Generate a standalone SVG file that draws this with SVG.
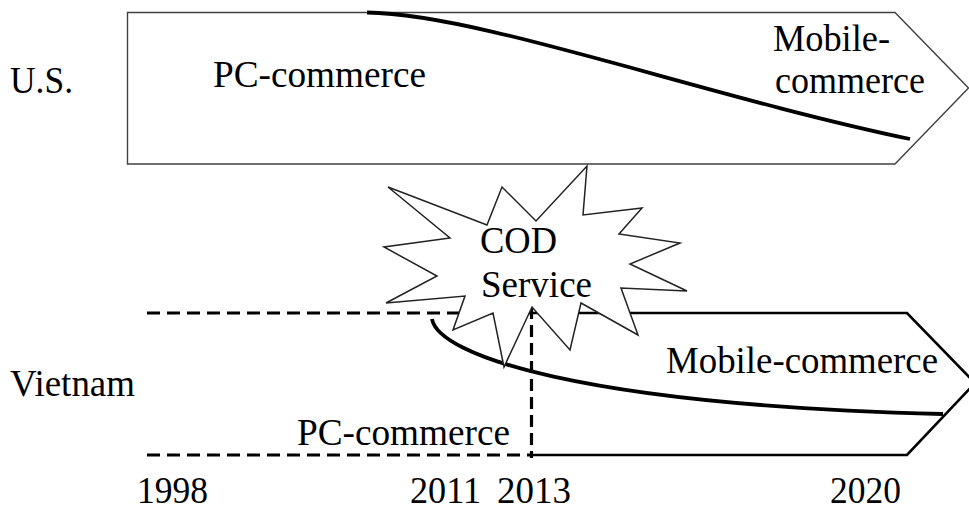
<svg xmlns="http://www.w3.org/2000/svg" width="969" height="512" viewBox="0 0 969 512">
<style>
text{font-family:"Liberation Serif","Times New Roman",serif;font-size:37px;fill:#000}
.box{fill:#fff;stroke:#404040;stroke-width:1.4}
.curve{fill:none;stroke:#000;stroke-width:3.8}
.dash{fill:none;stroke:#000;stroke-width:2.8;stroke-dasharray:13 7}
.solid{fill:none;stroke:#000;stroke-width:2.6}
.star{fill:#fff;stroke:#222;stroke-width:1.5;stroke-linejoin:miter}
</style>
<rect width="969" height="512" fill="#fff"/>
<g id="us">
<polygon class="box" points="127.5,12.5 895,12.5 968.5,88 895,164 127.5,164"/>
<text x="10" y="93" textLength="63" lengthAdjust="spacingAndGlyphs">U.S.</text>
<text x="213" y="87" textLength="213" lengthAdjust="spacingAndGlyphs">PC-commerce</text>
<text x="773" y="51" textLength="117" lengthAdjust="spacingAndGlyphs">Mobile-</text>
<text x="775" y="93" textLength="150" lengthAdjust="spacingAndGlyphs">commerce</text>
</g>
<g id="vietnam">
<text x="10" y="396" textLength="125" lengthAdjust="spacingAndGlyphs">Vietnam</text>
<polyline class="solid" points="531,313 907,313 975,383 907,455 531,455"/>
<text x="297" y="445" textLength="213" lengthAdjust="spacingAndGlyphs">PC-commerce</text>
<text x="666" y="373" textLength="272" lengthAdjust="spacingAndGlyphs">Mobile-commerce</text>
</g>
<g id="connectors">
<path class="curve" d="M367,12.5 C480,14 700,95 910,139"/>
<path class="curve" d="M432,319 C438,355 580,405 943,414"/>
<line class="dash" x1="147" y1="313" x2="531" y2="313"/>
<line class="dash" x1="147" y1="455" x2="531" y2="455"/>
<line class="dash" x1="531.5" y1="307" x2="531.5" y2="458" style="stroke-width:3.2;stroke-dasharray:12 6"/>
</g>
<g id="cod">
<polygon class="star" points="587,166 583,215 642,208 619,234 680,243 630,264 687,291 621,288 638,335 581,303 570,350 532,307 504,367 493,313 453,330 465,296 386,303 437,276 384,247 450,238 388,187 487,225 502,187 536,221"/>
<text x="480" y="253" textLength="77" lengthAdjust="spacingAndGlyphs">COD</text>
<text x="481" y="297" textLength="111" lengthAdjust="spacingAndGlyphs">Service</text>
</g>
<g id="years">
<text x="137" y="503" textLength="71" lengthAdjust="spacingAndGlyphs">1998</text>
<text x="410" y="503" textLength="71" lengthAdjust="spacingAndGlyphs">2011</text>
<text x="497" y="503" textLength="74" lengthAdjust="spacingAndGlyphs">2013</text>
<text x="830" y="503" textLength="71" lengthAdjust="spacingAndGlyphs">2020</text>
</g>
</svg>
